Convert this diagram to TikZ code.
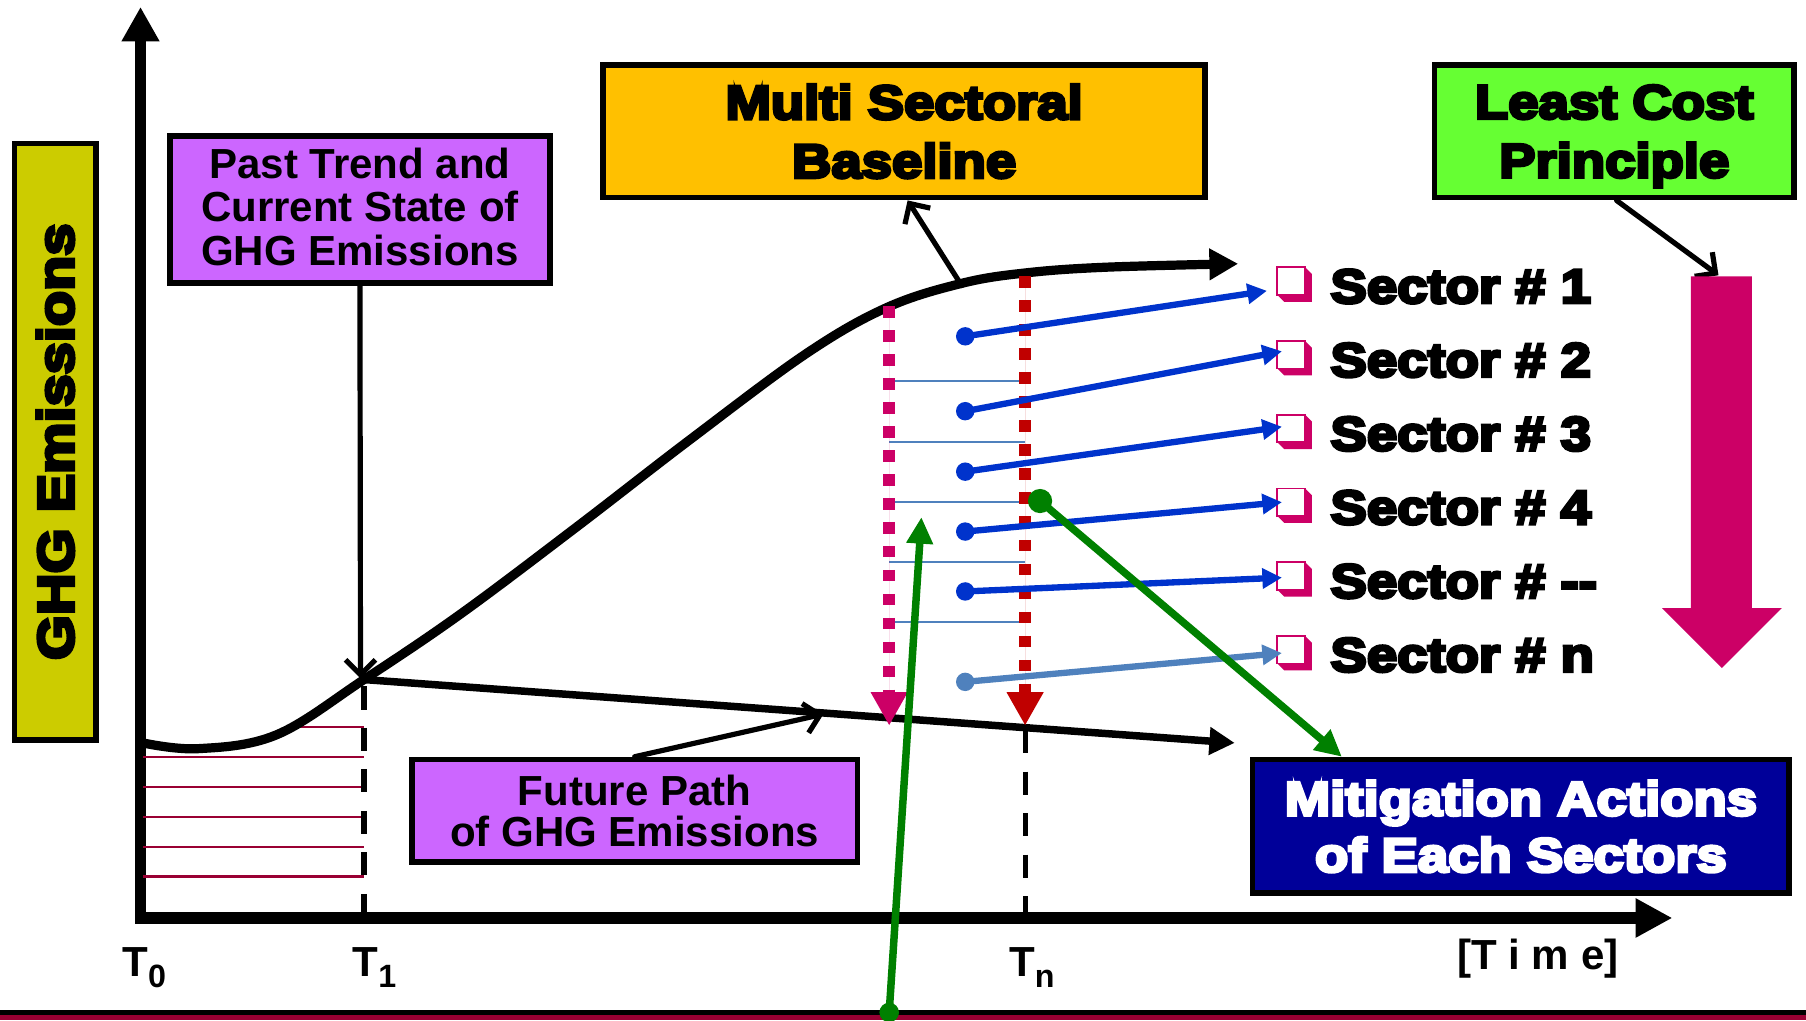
\documentclass[tikz,border=0pt]{standalone}
\usepackage{fontspec}
\setmainfont{Liberation Sans}
\newfontfamily\heavy{Liberation Sans Bold}[FakeStretch=1.14, FakeBold=6.5]
\newfontfamily\arb{Liberation Sans}[UprightFont={* Bold}]
\usetikzlibrary{arrows.meta,calc}
\definecolor{mypink}{HTML}{CC0066}
\definecolor{myred}{HTML}{C00000}
\definecolor{myblue}{HTML}{0033CC}
\definecolor{lblue}{HTML}{4F81BD}
\definecolor{mygreen}{HTML}{008000}
\definecolor{maroonl}{HTML}{990033}
\definecolor{violetbox}{HTML}{CC66FF}
\definecolor{orangebox}{HTML}{FFC000}
\definecolor{greenbox}{HTML}{66FF33}
\definecolor{navybox}{HTML}{000099}
\definecolor{yellowbox}{HTML}{CCCC00}
\begin{document}
\begin{tikzpicture}[x=1pt,y=-1pt,
  box/.style={draw=black, line width=5pt, inner sep=0pt, align=center},
  hv/.style={font=\heavy\fontsize{41.5}{51}\selectfont},
  ar/.style={font=\arb\fontsize{36.5}{37.5}\selectfont},
  ptr/.style={draw=black, line width=4.5pt, line cap=round, -{Straight Barb[length=13pt,width=26pt]}},
  blu/.style={draw=myblue, line width=5.5pt, -{Triangle[length=17pt,width=17pt]}},
  lblu/.style={draw=lblue, line width=5.5pt, -{Triangle[length=17pt,width=17pt]}},
  grn/.style={draw=mygreen, line width=6.5pt, -{Triangle[length=23pt,width=22pt]}},
  thinred/.style={draw=maroonl, line width=1.8pt},
  thinblue/.style={draw=lblue, line width=1.8pt},
  tdash/.style={draw=black, line width=4.5pt, dash pattern=on 20pt off 16pt},
  dotline/.style={line width=10pt, dash pattern=on 10pt off 10.8pt, -{Triangle[length=29pt,width=30pt]}},
]
\useasboundingbox (0,0) rectangle (1568,886);

% bottom bar
\fill[black] (0,877) rectangle (1568,881.5);
\fill[maroonl] (0,881.5) rectangle (1568,886);

% boxes
\node[box, fill=yellowbox, rotate=90, minimum width=518pt, minimum height=71pt, hv, font=\heavy\fontsize{44}{50}\selectfont] (ghg) at (48,383.5) {GHG Emissions};
\node[box, fill=violetbox, minimum width=330pt, minimum height=128pt, ar] (past) at (312.5,182) {\raisebox{0pt}[\height][0pt]{Past Trend and}\\Current State of\\\raisebox{0pt}[\height][5pt]{GHG Emissions}};
\node[box, fill=orangebox, minimum width=523pt, minimum height=115pt, hv] (multi) at (785,114) {Multi Sectoral\\Baseline};
\node[box, fill=greenbox, minimum width=312pt, minimum height=115pt, hv] (least) at (1401.5,114) {Least Cost\\\raisebox{0pt}[\height][0pt]{Principle}};
\node[box, fill=violetbox, minimum width=387pt, minimum height=89pt, ar, font=\arb\fontsize{36.5}{36}\selectfont] (future) at (551,704) {Future Path\\of GHG Emissions};
\node[box, fill=navybox, text=white, minimum width=466pt, minimum height=116pt, hv, font=\heavy\fontsize{41.5}{49}\selectfont] (mitig) at (1320.5,717.5) {Mitigation Actions\\of Each Sectors};

% axes
\coordinate (O) at (122,797);
\coordinate (ytop) at (122,6);
\coordinate (xend) at (1452,797);
\draw[line width=10pt, {Triangle[length=30pt,width=31pt]}-{Triangle[length=32pt,width=32pt]}] (ytop) -- (O) -- (xend);

% axis labels
\node[ar, anchor=base west, inner sep=0pt] (t0) at (106,848) {T\raisebox{-9pt}{\fontsize{28}{28}\selectfont 0}};
\node[ar, anchor=base west, inner sep=0pt] (t1) at (306,848) {T\raisebox{-9pt}{\fontsize{28}{28}\selectfont 1}};
\node[ar, anchor=base west, inner sep=0pt] (tn) at (876,848) {T\raisebox{-9pt}{\fontsize{28}{28}\selectfont n}};
\node[ar, anchor=base west, inner sep=0pt] (time) at (1265,842) {[T i m e]};

% hatch lines past
\draw[thinred] (250,631) -- (316,631);
\foreach \y in {657,683,709,735,761} \draw[thinred] (124,\y) -- (316,\y);

% T1 and Tn dashed
\coordinate (T1p) at (316,590);
\coordinate (T1a) at (313,589);
\draw[tdash] (316,596) -- (316,797);
\draw[tdash] (890,634) -- (890,797);

% main curve
\draw[line width=8pt, -{Triangle[length=25pt,width=26pt]}] plot[smooth, tension=0.6] coordinates {(124,645) (172,650) (240,638) (316,590) (400,533) (500,458) (600,381) (700,307) (770,267) (835,246) (890,237) (960,232) (1075,229)};

% future line
\coordinate (fend) at (1072,645);
\draw[line width=6.5pt, -{Triangle[length=22pt,width=23pt]}] (T1p) -- (fend);

% thin blue lines
\foreach \y in {331,384,436,488,540} \draw[thinblue] (772,\y) -- (890,\y);

% dotted lines
\draw[dotline, draw=mypink, fill=mypink] (772,266) -- (772,630);
\draw[dotline, draw=myred, fill=myred] (890,240) -- (890,630);

% pointers
\coordinate (curvept) at (835,248);
\coordinate (fpt) at (715,620);
\coordinate (bigtop) at (1492,239);
\draw[ptr] (past.south) -- (T1a);
\draw[ptr] (future.north) -- (fpt);
\draw[ptr] (curvept) -- ($(multi.south)+(3,0)$);
\draw[ptr] ($(least.south)+(2,0)$) -- (bigtop);

% big magenta arrow
\fill[mypink] (1468,240) -- (1521,240) -- (1521,528) -- (1547,528) -- (1495,580) -- (1443,528) -- (1468,528) -- cycle;

% sectors
\foreach \i/\t in {1/1,2/2,3/3,4/4,5/--,6/n}{
  \pgfmathsetmacro{\yy}{232+64*(\i-1)}
  \fill[mypink] (1133,\yy) -- (1139,\yy+6) -- (1139,\yy+30) -- (1115,\yy+30) -- (1109,\yy+24) -- cycle;
  \filldraw[fill=white, draw=mypink, line width=1.5pt] (1109,\yy) rectangle (1133,\yy+24);
  \node[hv, anchor=base west, inner sep=0pt] (s\i) at (1155,\yy+31) {Sector \# \t};
}

% blue arrows
\coordinate (b1s) at (838,292);   \coordinate (b1e) at (1100,252.5);
\coordinate (b2s) at (838,357);   \coordinate (b2e) at (1113,305);
\coordinate (b3s) at (838,409.5); \coordinate (b3e) at (1113,370.5);
\coordinate (b4s) at (838,461.5); \coordinate (b4e) at (1113,436);
\coordinate (b5s) at (838,513.5); \coordinate (b5e) at (1113,501.5);
\coordinate (b6s) at (838,592);   \coordinate (b6e) at (1113,567);
\foreach \k in {1,...,5}{
  \fill[myblue] (b\k s) circle[radius=8pt];
  \draw[blu] (b\k s) -- (b\k e);
}
\fill[lblue] (b6s) circle[radius=8pt];
\draw[lblu] (b6s) -- (b6e);

% green lines
\coordinate (gb) at (772,879);
\coordinate (ga) at (800,449);
\coordinate (gd) at (903,435);
\fill[mygreen] (gb) circle[radius=8.5pt];
\draw[grn] (gb) -- (ga);
\fill[mygreen] (gd) circle[radius=10.5pt];
\draw[grn] (gd) -- ($(mitig.north west)+(80,0)$);
\end{tikzpicture}
\end{document}
